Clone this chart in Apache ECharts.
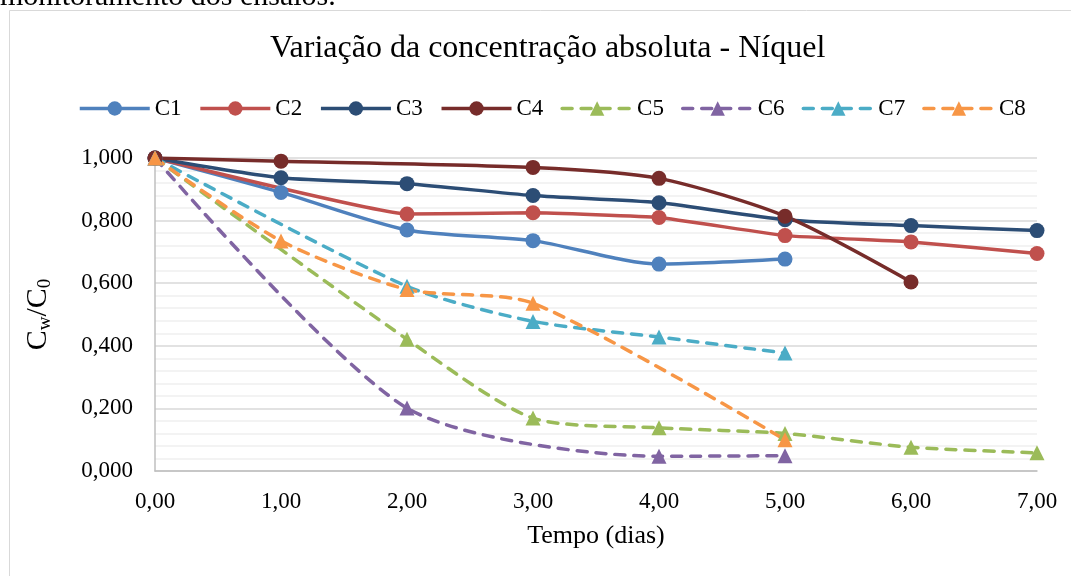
<!DOCTYPE html>
<html>
<head>
<meta charset="utf-8">
<script src="https://cdn.jsdelivr.net/npm/echarts@6/dist/echarts.min.js"></script>
<style>
html,body{margin:0;padding:0;background:#fff;}
#chart{width:1071px;height:576px;}
</style>
</head>
<body>
<div id="chart"></div>
<script>
// ---- data ----
const days = [0, 1, 2, 3, 4, 5, 6, 7];
const xTickLabels = ['0,00', '1,00', '2,00', '3,00', '4,00', '5,00', '6,00', '7,00'];
const yTickLabels = ['0,000', '0,200', '0,400', '0,600', '0,800', '1,000'];
const seriesNames = ['C1', 'C2', 'C3', 'C4', 'C5', 'C6', 'C7', 'C8'];
const C1 = [1.000, 0.890, 0.770, 0.736, 0.661, 0.677, null, null];
const C2 = [1.000, null, 0.821, 0.825, 0.810, 0.752, 0.732, 0.695];
const C3 = [1.000, 0.937, 0.918, 0.880, 0.857, 0.803, 0.784, 0.768];
const C4 = [1.000, 0.990, null, 0.970, 0.935, 0.814, 0.604, null];
const C5 = [1.000, null, 0.421, 0.169, 0.138, 0.120, 0.076, 0.058];
const C6 = [1.000, null, 0.201, null, 0.047, 0.049, null, null];
const C7 = [1.000, null, 0.590, 0.478, 0.428, 0.377, null, null];
const C8 = [1.000, 0.735, 0.580, 0.536, null, 0.100, null, null];

const allValues = [C1, C2, C3, C4, C5, C6, C7, C8];
const colors = ['#4F81BD', '#C0504D', '#2C4D75', '#772C2A', '#9BBB59', '#8064A2', '#4BACC6', '#F79646'];
const dashed = [false, false, false, false, true, true, true, true];
const smoothing = [0.25, 0.1, 0.25, 0.25, 0.25, 0.25, 0.25, 0.25];

const FONT = '"Liberation Serif", "Times New Roman", serif';

function pairs(vals) {
  const out = [];
  vals.forEach((v, i) => { if (v !== null) out.push([days[i], v]); });
  return out;
}

const series = seriesNames.map((name, k) => ({
  name: name,
  type: 'line',
  data: pairs(allValues[k]),
  smooth: smoothing[k],
  symbol: dashed[k] ? 'triangle' : 'circle',
  symbolSize: 15,
  showSymbol: true,
  color: colors[k],
  lineStyle: {
    color: colors[k],
    width: 3.5,
    type: dashed[k] ? [10, 9] : 'solid',
    cap: dashed[k] ? 'round' : 'butt'
  },
  itemStyle: { color: colors[k], borderWidth: 0 },
  emphasis: { disabled: true },
  animation: false
}));

const chart = echarts.init(document.getElementById('chart'), null, { renderer: 'canvas' });
chart.setOption({
  animation: false,
  backgroundColor: '#ffffff',
  textStyle: { fontFamily: FONT },
  graphic: [
    {
      type: 'rect',
      shape: { x: 9.5, y: 10.5, width: 1200, height: 700 },
      style: { fill: 'none', stroke: '#d9d9d9', lineWidth: 1 },
      silent: true
    },
    {
      type: 'text',
      style: {
        text: 'monitoramento dos ensaios.',
        x: 0, y: 12,
        verticalAlign: 'bottom',
        font: '30px "Liberation Serif"',
        fill: '#000'
      },
      silent: true
    }
  ],
  title: {
    text: 'Variação da concentração absoluta - Níquel',
    left: 265,
    top: 28,
    textStyle: { fontFamily: FONT, fontSize: 32, fontWeight: 'normal', color: '#000' }
  },
  legend: {
    left: 73,
    top: 92,
    itemWidth: 70,
    itemHeight: 18,
    itemGap: 17,
    lineStyle: { width: 3.5 },
    textStyle: { fontFamily: FONT, fontSize: 23, color: '#000' },
    data: seriesNames
  },
  grid: { left: 155, right: 34, top: 158, bottom: 105, containLabel: false },
  xAxis: {
    type: 'value',
    min: 0, max: 7, interval: 1,
    axisLine: { show: true, lineStyle: { color: '#bfbfbf', width: 1.5 } },
    axisTick: { show: false },
    splitLine: { show: false },
    axisLabel: {
      margin: 19,
      fontFamily: FONT, fontSize: 23, color: '#000',
      formatter: v => xTickLabels[days.indexOf(v)]
    },
    name: 'Tempo (dias)',
    nameLocation: 'middle',
    nameGap: 52,
    nameTextStyle: { fontFamily: FONT, fontSize: 26, color: '#000' }
  },
  yAxis: {
    type: 'value',
    min: 0, max: 1, interval: 0.2,
    axisLine: { show: true, lineStyle: { color: '#bfbfbf', width: 1.5 } },
    axisTick: { show: false },
    splitLine: { show: true, lineStyle: { color: '#d9d9d9', width: 1.5 } },
    minorTick: { show: false, splitNumber: 5 },
    minorSplitLine: { show: true, lineStyle: { color: '#efefef', width: 1.5 } },
    axisLabel: {
      margin: 22,
      fontFamily: FONT, fontSize: 23, color: '#000',
      formatter: v => yTickLabels[Math.round(v / 0.2)]
    },
    name: '{c|C}{s|w}{c|/C}{s|0}',
    nameLocation: 'middle',
    nameRotate: 90,
    nameGap: 100,
    nameTextStyle: {
      color: '#000',
      rich: {
        c: { fontFamily: FONT, fontSize: 30, lineHeight: 34, verticalAlign: 'middle', color: '#000' },
        s: { fontFamily: FONT, fontSize: 19, lineHeight: 20, verticalAlign: 'bottom', color: '#000' }
      }
    }
  },
  series: series
});
</script>
</body>
</html>
